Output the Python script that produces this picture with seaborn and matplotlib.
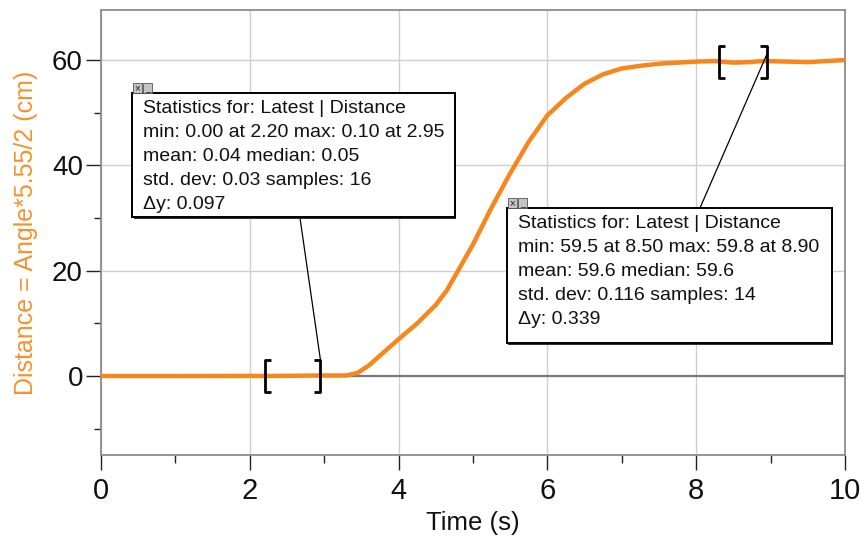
import matplotlib
matplotlib.use("Agg")
import matplotlib.pyplot as plt
import seaborn as sns
import pandas as pd
from matplotlib.patches import Rectangle, ConnectionPatch

# ---- data ----
time_s = [0.0, 1.0, 2.0, 2.2, 2.6, 2.95, 3.3, 3.45, 3.6, 3.8, 4.0, 4.25, 4.5, 4.65,
          4.8, 5.0, 5.25, 5.5, 5.75, 6.0, 6.25, 6.5, 6.75, 7.0, 7.25, 7.5, 7.75,
          8.0, 8.25, 8.5, 8.7, 8.9, 9.25, 9.5, 9.75, 10.0]
distance_cm = [0.0, 0.0, 0.02, 0.0, 0.05, 0.10, 0.1, 0.6, 2.0, 4.5, 7.0, 10.0, 13.5, 16.3,
               20.0, 25.0, 32.0, 38.5, 44.5, 49.5, 52.8, 55.5, 57.3, 58.4, 58.9, 59.3, 59.5,
               59.7, 59.8, 59.5, 59.6, 59.8, 59.7, 59.6, 59.8, 60.0]

x_ticks = [0, 2, 4, 6, 8, 10]
y_ticks = [0, 20, 40, 60]

bracket1 = (2.20, 2.95, 0.0)     # x start, x end, centre y
bracket2 = (8.30, 8.95, 59.6)

stats1 = ["Statistics for: Latest | Distance",
          "min: 0.00 at 2.20 max: 0.10 at 2.95",
          "mean: 0.04 median: 0.05",
          "std. dev: 0.03 samples: 16",
          "\u0394y: 0.097"]
stats2 = ["Statistics for: Latest | Distance",
          "min: 59.5 at 8.50 max: 59.8 at 8.90",
          "mean: 59.6 median: 59.6",
          "std. dev: 0.116 samples: 14",
          "\u0394y: 0.339"]

ORANGE = "#F7861C"
LABEL_ORANGE = "#F2932F"

sns.set_theme(style="white")
plt.rcParams["font.family"] = ["Liberation Sans", "DejaVu Sans"]

W, H = 864, 539
fig = plt.figure(figsize=(W / 100, H / 100), dpi=100)
ax = fig.add_axes([101 / W, 1 - 455 / H, (845 - 101) / W, (455 - 10) / H])

df = pd.DataFrame({"Time (s)": time_s, "Distance": distance_cm})

ax.set_xlim(0, 10)
ax.set_ylim(-15, 69.5)

# grid
for xv in x_ticks:
    ax.axvline(xv, color="#cfcfcf", lw=1.0, zorder=0)
for yv in y_ticks:
    ax.axhline(yv, color="#cfcfcf", lw=1.0, zorder=0)
ax.axhline(0, color="#7a7a7a", lw=1.6, zorder=1)

sns.lineplot(data=df, x="Time (s)", y="Distance", ax=ax, color=ORANGE, lw=3.2,
             zorder=3, estimator=None, sort=False)

ax.set_xticks(x_ticks)
ax.set_xticks([1, 3, 5, 7, 9], minor=True)
ax.set_yticks(y_ticks)
ax.set_yticks([-10, 10, 30, 50], minor=True)
ax.set_xticklabels([str(v) for v in x_ticks], fontsize=21)
ax.set_yticklabels([str(v) for v in y_ticks], fontsize=20)
ax.tick_params(axis="x", which="major", length=11, width=1, color="#222222", pad=5,
               bottom=True, labelcolor="#111111")
ax.tick_params(axis="x", which="minor", length=6, width=1, color="#222222", bottom=True)
ax.tick_params(axis="y", which="major", length=11, width=1, color="#222222", pad=2,
               left=True, labelcolor="#111111")
ax.tick_params(axis="y", which="minor", length=5, width=1, color="#222222", left=True)

ax.set_xlabel("Time (s)", fontsize=18.5, color="#111111", labelpad=4)
ax.set_ylabel("Distance = Angle*5.55/2 (cm)", fontsize=18, color=LABEL_ORANGE, labelpad=10)

for side in ["left", "bottom", "top", "right"]:
    ax.spines[side].set_color("#8c8c8c")
    ax.spines[side].set_linewidth(1.3)
    ax.spines[side].set_visible(True)

# brackets
def bracket(x0, x1, yc, half=3.0, serif=0.09):
    kw = dict(color="black", lw=2.0, zorder=5, solid_capstyle="butt")
    ax.plot([x0 + serif, x0, x0, x0 + serif], [yc + half, yc + half, yc - half, yc - half], **kw)
    ax.plot([x1 - serif, x1, x1, x1 - serif], [yc + half, yc + half, yc - half, yc - half], **kw)

bracket(*bracket1)
bracket(*bracket2)

def fx(px):
    return px / W

def fy(py):
    return 1 - py / H

# leader lines
fig.add_artist(ConnectionPatch(xyA=(fx(300), fy(218)), coordsA="figure fraction",
                               xyB=(bracket1[1], bracket1[2] + 3.0), coordsB=ax.transData,
                               color="black", lw=0.9, zorder=4))
fig.add_artist(ConnectionPatch(xyA=(fx(700), fy(208)), coordsA="figure fraction",
                               xyB=(bracket2[1], bracket2[2] + 1.5), coordsB=ax.transData,
                               color="black", lw=0.9, zorder=4))

def stat_box(left, top, right, bottom, lines):
    # slight shadow on bottom/right
    fig.add_artist(Rectangle((fx(left + 1.5), fy(bottom + 1.5)), fx(right) - fx(left),
                             fy(top) - fy(bottom), transform=fig.transFigure,
                             facecolor="#333333", edgecolor="none", zorder=9))
    fig.add_artist(Rectangle((fx(left), fy(bottom)), fx(right) - fx(left), fy(top) - fy(bottom),
                             transform=fig.transFigure, facecolor="white", edgecolor="black",
                             lw=1.4, zorder=10))
    # small close / minimise buttons
    for i, glyph in enumerate(["\u00d7", "_"]):
        bx = left + 1 + i * 10
        fig.add_artist(Rectangle((fx(bx), fy(top)), fx(9), 10 / H, transform=fig.transFigure,
                                 facecolor="#c4c4c4", edgecolor="#555555", lw=0.6, zorder=11))
        fig.text(fx(bx + 4.5), fy(top - 5), glyph, fontsize=7, ha="center", va="center",
                 color="#222222", zorder=12)
    for i, s in enumerate(lines):
        fig.text(fx(left + 11), fy(top + 7 + i * 24), s, fontsize=14, ha="left", va="top",
                 color="#111111", zorder=12)

stat_box(132, 93, 455, 217, stats1)
stat_box(507, 208, 832, 343, stats2)

fig.savefig("out.png", dpi=100)
